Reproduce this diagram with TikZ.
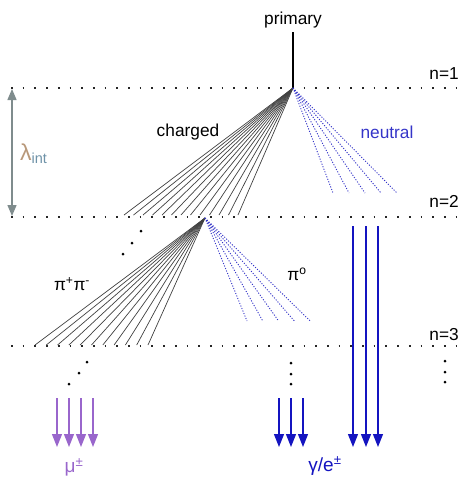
\documentclass[tikz,border=0pt]{standalone}
\usepackage{fontspec}
\setmainfont{Liberation Sans}
\usetikzlibrary{arrows.meta}
\definecolor{neublue}{HTML}{3535C8}
\definecolor{arrblue}{HTML}{1414C0}
\definecolor{mupurple}{HTML}{9966CC}
\definecolor{lamgray}{HTML}{7F8C8D}
\definecolor{lamtan}{HTML}{B8987A}
\definecolor{intblue}{HTML}{6E92A8}
\tikzset{
  lbl/.style={font=\fontsize{17.3}{19}\selectfont, inner sep=0pt},
  biglbl/.style={font=\fontsize{19}{21}\selectfont, inner sep=0pt},
  levelline/.style={line width=1.7pt, dash pattern=on 1.7pt off 10pt, black!85},
  chargedline/.style={line width=0.7pt, black!75},
  neutralline/.style={line width=0.9pt, neublue, dash pattern=on 1.1pt off 1.6pt},
  bigdot/.style={circle, fill=black, inner sep=0pt, minimum size=3pt},
  bluearrow/.style={line width=1.4pt, arrblue, -{Triangle[width=10pt,length=13pt]}},
  muarrow/.style={line width=1.4pt, mupurple, -{Triangle[width=10pt,length=13pt]}},
}
\begin{document}
\begin{tikzpicture}[x=1pt,y=-1pt]
\useasboundingbox (0,0) rectangle (463,480);
% level lines
\coordinate (l1a) at (11,88); \coordinate (l1b) at (463,88);
\coordinate (l2a) at (11,217); \coordinate (l2b) at (463,217);
\coordinate (l3a) at (11,346); \coordinate (l3b) at (463,346);
\draw[levelline] (l1a) -- (l1b);
\draw[levelline] (l2a) -- (l2b);
\draw[levelline] (l3a) -- (l3b);
\node[lbl, anchor=base east] (n1) at (459,79) {n=1};
\node[lbl, anchor=base east] (n2) at (459,207) {n=2};
\node[lbl, anchor=base east] (n3) at (459,340) {n=3};
% primary
\node[lbl, anchor=base] (prim) at (293,24) {primary};
\coordinate (v1) at (293,88);
\coordinate (ptop) at (293,32);
\draw[line width=1.5pt] (ptop) -- (v1);
% first fan charged
\foreach \i in {0,...,12}{
  \coordinate (c1e\i) at ({124+\i*9.5},215);
  \draw[chargedline] (v1) -- (c1e\i);
}
% first fan neutral
\foreach \i in {0,...,4}{
  \coordinate (n1e\i) at ({333+\i*16},193);
  \draw[neutralline] (v1) -- (n1e\i);
}
\node[lbl] (charged) at (188,132) {charged};
\node[lbl, text=neublue] (neutral) at (387,132) {neutral};
% lambda
\coordinate (lt) at (12,89); \coordinate (lb) at (12,216);
\draw[lamgray, line width=1.4pt, {Triangle[width=9pt,length=11pt]}-{Triangle[width=9pt,length=11pt]}] (lt) -- (lb);
\node[inner sep=0pt, anchor=base west] (lam) at (20,160) {\fontsize{23}{25}\selectfont\color{lamtan}λ\textsubscript{\fontsize{14.5}{15}\selectfont\color{intblue}int}};
% second vertex
\coordinate (v2) at (205,218);
\foreach \i in {0,...,10}{
  \coordinate (c2e\i) at ({35+\i*11.3},345);
  \draw[chargedline] (v2) -- (c2e\i);
}
\foreach \i in {0,...,4}{
  \coordinate (n2e\i) at ({247+\i*15.8},321);
  \draw[neutralline] (v2) -- (n2e\i);
}
\node[lbl] (pipm) at (72,284) {π\textsuperscript{+}π\textsuperscript{-}};
\node[lbl] (pi0) at (297,274) {π\textsuperscript{o}};
% dots
\node[bigdot] (d1) at (141,231) {};
\node[bigdot] (d2) at (132,243) {};
\node[bigdot] (d3) at (123,254) {};
\node[bigdot] (d4) at (87,362) {};
\node[bigdot] (d5) at (79,373) {};
\node[bigdot] (d6) at (69,384) {};
\node[bigdot] (d7) at (291,363) {};
\node[bigdot] (d8) at (291,374) {};
\node[bigdot] (d9) at (291,384) {};
\node[bigdot] (d10) at (445,361) {};
\node[bigdot] (d11) at (445,372) {};
\node[bigdot] (d12) at (445,382) {};
% long blue arrows
\foreach \x [count=\k] in {353,366,378}{
  \coordinate (gt\k) at (\x,226);
  \coordinate (gb\k) at (\x,447);
  \draw[bluearrow] (gt\k) -- (gb\k);
}
% short blue arrows
\foreach \x [count=\k] in {279,291,303}{
  \coordinate (st\k) at (\x,398);
  \coordinate (sb\k) at (\x,447);
  \draw[bluearrow] (st\k) -- (sb\k);
}
% muon arrows
\foreach \x [count=\k] in {57,69,81,93}{
  \coordinate (mt\k) at (\x,398);
  \coordinate (mb\k) at (\x,447);
  \draw[muarrow] (mt\k) -- (mb\k);
}
\node[biglbl, text=mupurple] (mu) at (74,467) {μ\textsuperscript{±}};
\node[biglbl, text=arrblue] (ge) at (325,466) {γ/e\textsuperscript{±}};
\end{tikzpicture}
\end{document}
